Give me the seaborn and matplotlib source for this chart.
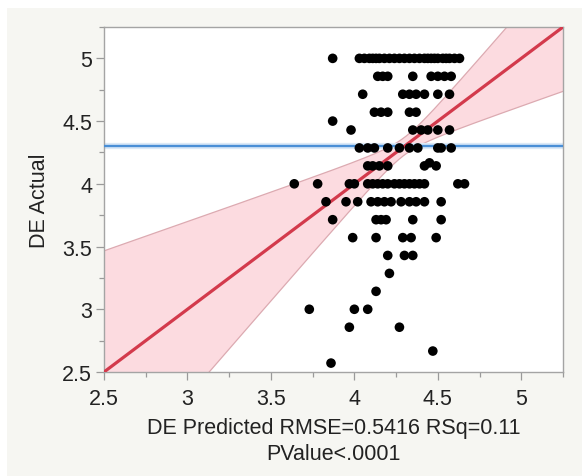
import numpy as np
import pandas as pd
import matplotlib
matplotlib.use("Agg")
import matplotlib.pyplot as plt
from matplotlib.patches import Rectangle
from matplotlib.ticker import MultipleLocator
import seaborn as sns

# Actual DE score for each respondent, grouped by row of equal actual value
actual = (
    [5.0] * 25
    + [4.857] * 8
    + [4.714] * 7
    + [4.571] * 5
    + [4.5] * 1
    + [4.429] * 6
    + [4.286] * 10
    + [4.167] * 1
    + [4.143] * 6
    + [4.0] * 18
    + [3.857] * 12
    + [3.714] * 6
    + [3.571] * 5
    + [3.429] * 3
    + [3.286] * 1
    + [3.143] * 1
    + [3.0] * 3
    + [2.857] * 2
    + [2.667] * 1
    + [2.571] * 1
)

# Model-predicted DE score, in the same order
predicted = (
    [3.87, 4.03, 4.06, 4.09, 4.11, 4.13, 4.15, 4.18, 4.21, 4.24, 4.27, 4.30, 4.33,
     4.36, 4.39, 4.42, 4.44, 4.46, 4.48, 4.50, 4.53, 4.55, 4.57, 4.60, 4.63]
    + [4.14, 4.17, 4.20, 4.35, 4.46, 4.50, 4.54, 4.58]
    + [4.05, 4.29, 4.33, 4.37, 4.42, 4.50, 4.57]
    + [4.12, 4.16, 4.20, 4.33, 4.37]
    + [3.87]
    + [3.98, 4.35, 4.40, 4.44, 4.50, 4.57]
    + [4.03, 4.08, 4.12, 4.20, 4.27, 4.33, 4.38, 4.50, 4.52, 4.58]
    + [4.45]
    + [4.08, 4.11, 4.15, 4.20, 4.42, 4.49]
    + [3.64, 3.78, 3.97, 4.00, 4.08, 4.11, 4.14, 4.17, 4.20, 4.24, 4.27, 4.30,
       4.33, 4.36, 4.39, 4.42, 4.62, 4.66]
    + [3.83, 3.95, 4.02, 4.10, 4.14, 4.18, 4.22, 4.28, 4.33, 4.37, 4.42, 4.52]
    + [3.87, 4.13, 4.16, 4.19, 4.35, 4.52]
    + [3.99, 4.13, 4.29, 4.34, 4.49]
    + [4.20, 4.30, 4.35]
    + [4.21]
    + [4.13]
    + [3.73, 4.00, 4.08]
    + [3.97, 4.27]
    + [4.47]
    + [3.86]
)

# Fit summary
mean_actual = 4.30
rmse = 0.5416
rsq = 0.11
band_floor = 0.07      # half-width of the confidence curves at the mean
band_slope = 0.535     # growth of the half-width away from the mean

axis_lo, axis_hi = 2.5, 5.25

df = pd.DataFrame({"DE Predicted": predicted, "DE Actual": actual})

sns.set_theme(style="white")
plt.rcParams["font.family"] = ["Liberation Sans", "DejaVu Sans"]

fig = plt.figure(figsize=(5.82, 4.77), dpi=100, facecolor="white")
fig.patches.append(Rectangle((7 / 582, 0), 1 - 7 / 582, 1 - 9 / 477,
                             transform=fig.transFigure, facecolor="#f6f6f2",
                             edgecolor="none", zorder=-10))
ax = fig.add_axes([104 / 582, 1 - 373 / 477, 459 / 582, 345 / 477])
ax.set_facecolor("white")

# Confidence curves around the identity fit line
grid = np.linspace(axis_lo, axis_hi, 300)
half = np.sqrt(band_floor ** 2 + band_slope ** 2 * (grid - mean_actual) ** 2)
ax.fill_between(grid, grid - half, grid + half, color="#fcdbe0", lw=0, zorder=1)
ax.plot(grid, grid + half, color="#dcaab1", lw=0.9, zorder=2)
ax.plot(grid, grid - half, color="#dcaab1", lw=0.9, zorder=2)

# Mean of actual
ax.axhline(mean_actual, color="#dbe9f7", lw=4.5, zorder=2)
ax.axhline(mean_actual, color="#4a8fd6", lw=1.7, zorder=3)

# Fit line (actual on predicted)
fit = pd.DataFrame({"x": [axis_lo, axis_hi], "y": [axis_lo, axis_hi]})
sns.lineplot(data=fit, x="x", y="y", ax=ax, color="#d33a4c", lw=2.3, zorder=4)

sns.scatterplot(data=df, x="DE Predicted", y="DE Actual", ax=ax, color="black",
                s=48, edgecolor="none", zorder=5)

ax.set_xlim(axis_lo, axis_hi)
ax.set_ylim(axis_lo, axis_hi)
ax.xaxis.set_major_locator(MultipleLocator(0.5))
ax.xaxis.set_minor_locator(MultipleLocator(0.25))
ax.yaxis.set_major_locator(MultipleLocator(0.5))
ax.yaxis.set_minor_locator(MultipleLocator(0.25))
ax.xaxis.set_major_formatter(plt.FuncFormatter(lambda v, p: f"{v:g}"))
ax.yaxis.set_major_formatter(plt.FuncFormatter(lambda v, p: f"{v:g}"))

for side in ["left", "right", "top", "bottom"]:
    ax.spines[side].set_visible(True)
    ax.spines[side].set_color("#a4a4a4")
    ax.spines[side].set_linewidth(1.0)

ax.tick_params(axis="both", which="major", direction="out", length=5.5,
               width=0.9, color="#9a9a9a", labelsize=15.5, labelcolor="#222222",
               bottom=True, left=True)
ax.tick_params(axis="x", which="major", pad=6)
ax.tick_params(axis="y", which="major", pad=3)
ax.tick_params(axis="both", which="minor", direction="out", length=3.5,
               width=0.9, color="#9a9a9a", bottom=True, left=True)

ax.set_xlabel(f"DE Predicted RMSE={rmse} RSq={rsq}\nPValue<.0001",
              fontsize=15.5, color="#222222", labelpad=6, linespacing=1.3)
ax.set_ylabel("DE Actual", fontsize=15.5, color="#222222", labelpad=9)

fig.savefig("out.png", dpi=100, facecolor=fig.get_facecolor())
